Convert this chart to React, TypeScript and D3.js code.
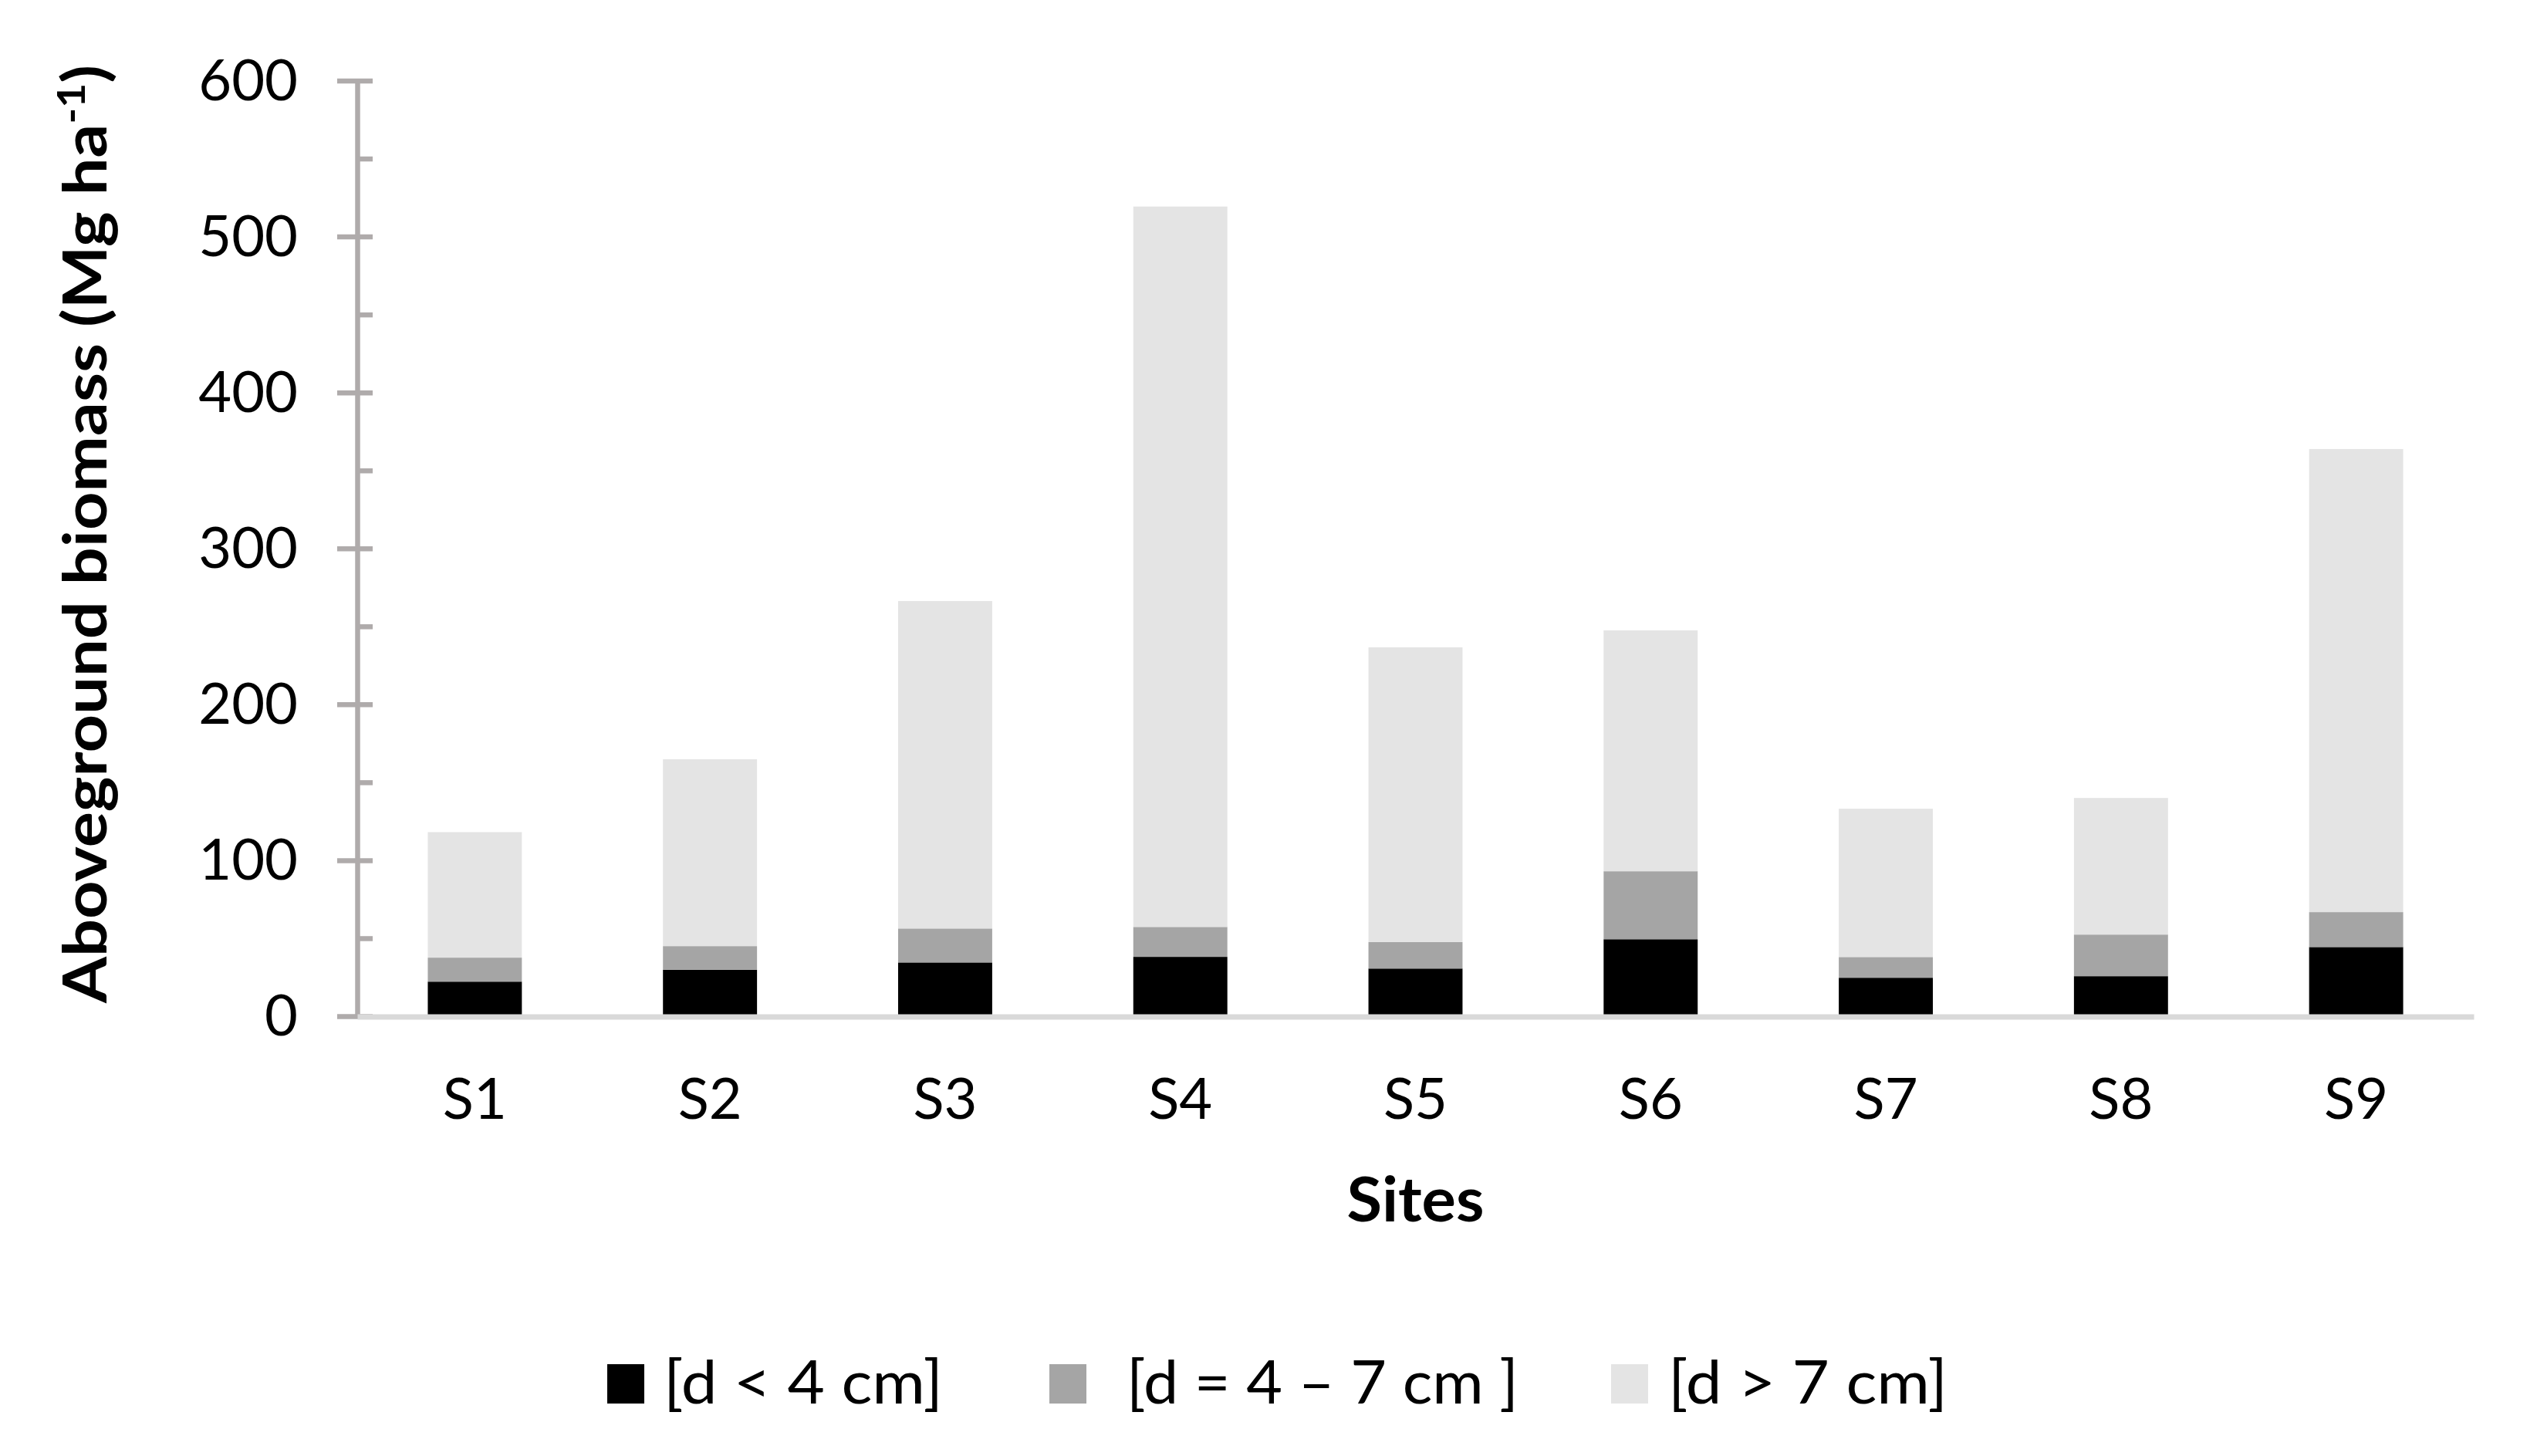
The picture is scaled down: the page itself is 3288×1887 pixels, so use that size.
import React, { useEffect, useRef } from 'react';
import * as d3 from 'd3';

// sites along the x axis
const sites = ['S1', 'S2', 'S3', 'S4', 'S5', 'S6', 'S7', 'S8', 'S9'];

// biomass per diameter class (Mg ha-1)
const small = [22.4, 30, 34.7, 38.3, 30.8, 49.6, 24.9, 25.9, 44.6];
const medium = [15.4, 15.2, 21.8, 19.2, 17, 43.6, 13.3, 26.7, 22.4];
const large = [80.5, 119.8, 210, 462, 189, 154.5, 95.1, 87.6, 297];

const seriesKeys = ['small', 'medium', 'large'];
const seriesLabels = ['[d < 4 cm]', '[d = 4 \u2013 7 cm ]', '[d > 7 cm]'];
const seriesColors = ['#000000', '#A5A5A5', '#E4E4E4'];

const yTicks = [0, 100, 200, 300, 400, 500, 600];
const yMinorTicks = [50, 150, 250, 350, 450, 550];

const W = 3288;
const H = 1887;
const FONT = 'Lato, "Open Sans", sans-serif';

export default function App() {
  const ref = useRef(null);

  useEffect(() => {
    const svg = d3.select(ref.current);
    svg.selectAll('*').remove();

    // plot area
    var margin = { top: 105, right: 82, bottom: 569.5, left: 463 },
      width = W - margin.left - margin.right,
      height = H - margin.top - margin.bottom;

    const g = svg.append('g').attr('transform', 'translate(' + margin.left + ',' + margin.top + ')');

    const table = sites.map((s, i) => ({ site: s, small: small[i], medium: medium[i], large: large[i] }));
    const stacked = d3.stack().keys(seriesKeys)(table);

    const x = d3.scaleBand().domain(sites).range([0, width]).paddingInner(0.6).paddingOuter(0.3);
    const y = d3.scaleLinear().domain([0, 600]).range([height, 0]);

    // stacked bars
    g.selectAll('g.layer')
      .data(stacked)
      .join('g')
      .attr('class', 'layer')
      .attr('fill', (d, i) => seriesColors[i])
      .selectAll('rect')
      .data((d) => d)
      .join('rect')
      .attr('x', (d) => x(d.data.site))
      .attr('width', x.bandwidth())
      .attr('y', (d) => y(d[1]))
      .attr('height', (d) => y(d[0]) - y(d[1]));

    // y axis
    const yAxis = g
      .append('g')
      .call(d3.axisLeft(y).tickValues(yTicks).tickSize(0).tickSizeOuter(0).tickPadding(77));
    yAxis.select('.domain').attr('stroke', '#AFABAB').attr('stroke-width', 6.5);
    yAxis
      .selectAll('text')
      .attr('font-family', FONT)
      .attr('font-size', 74)
      .attr('fill', '#000')
      .attr('dy', 24);

    g.selectAll('line.major')
      .data(yTicks)
      .join('line')
      .attr('class', 'major')
      .attr('x1', -26)
      .attr('x2', 20)
      .attr('y1', (d) => y(d))
      .attr('y2', (d) => y(d))
      .attr('stroke', '#AFABAB')
      .attr('stroke-width', 6.5);

    g.selectAll('line.minor')
      .data(yMinorTicks)
      .join('line')
      .attr('class', 'minor')
      .attr('x1', 0)
      .attr('x2', 20)
      .attr('y1', (d) => y(d))
      .attr('y2', (d) => y(d))
      .attr('stroke', '#AFABAB')
      .attr('stroke-width', 6.5);

    // x axis
    const xAxis = g
      .append('g')
      .attr('transform', 'translate(0,' + height + ')')
      .call(d3.axisBottom(x).tickSize(0).tickSizeOuter(0).tickPadding(80));
    xAxis.select('.domain').attr('stroke', '#D9D9D9').attr('stroke-width', 7);
    xAxis.selectAll('text').attr('font-family', FONT).attr('font-size', 74).attr('fill', '#000');

    // axis titles
    svg
      .append('text')
      .attr('x', margin.left + width / 2)
      .attr('y', 1583)
      .attr('text-anchor', 'middle')
      .attr('font-family', FONT)
      .attr('font-weight', 700)
      .attr('font-size', 80)
      .attr('textLength', 178)
      .attr('lengthAdjust', 'spacingAndGlyphs')
      .text('Sites');

    const yTitle = svg
      .append('text')
      .attr('transform', 'translate(138,692) rotate(-90)')
      .attr('text-anchor', 'middle')
      .attr('font-family', FONT)
      .attr('font-weight', 700)
      .attr('font-size', 78)
      .attr('textLength', 1216)
      .attr('lengthAdjust', 'spacingAndGlyphs');
    yTitle.append('tspan').text('Aboveground biomass (Mg ha');
    yTitle.append('tspan').attr('font-size', 50).attr('dy', -28).text('-1');
    yTitle.append('tspan').attr('dy', 28).text(')');

    // legend
    const swatchX = [787, 1360, 2088];
    const labelX = [860, 1460, 2162];
    const labelLen = [362, 508, 362];
    const legend = svg
      .selectAll('g.legend')
      .data(seriesLabels)
      .join('g')
      .attr('class', 'legend');
    legend
      .append('rect')
      .attr('x', (d, i) => swatchX[i])
      .attr('y', 1768)
      .attr('width', 48)
      .attr('height', 51)
      .attr('fill', (d, i) => seriesColors[i]);
    legend
      .append('text')
      .attr('x', (d, i) => labelX[i])
      .attr('y', 1819)
      .attr('font-family', FONT)
      .attr('font-size', 78)
      .attr('textLength', (d, i) => labelLen[i])
      .attr('lengthAdjust', 'spacingAndGlyphs')
      .text((d) => d);
  }, []);

  return (
    <svg
      ref={ref}
      width={W}
      height={H}
      style={{ position: 'absolute', left: 0, top: 0, background: '#fff' }}
    ></svg>
  );
}
